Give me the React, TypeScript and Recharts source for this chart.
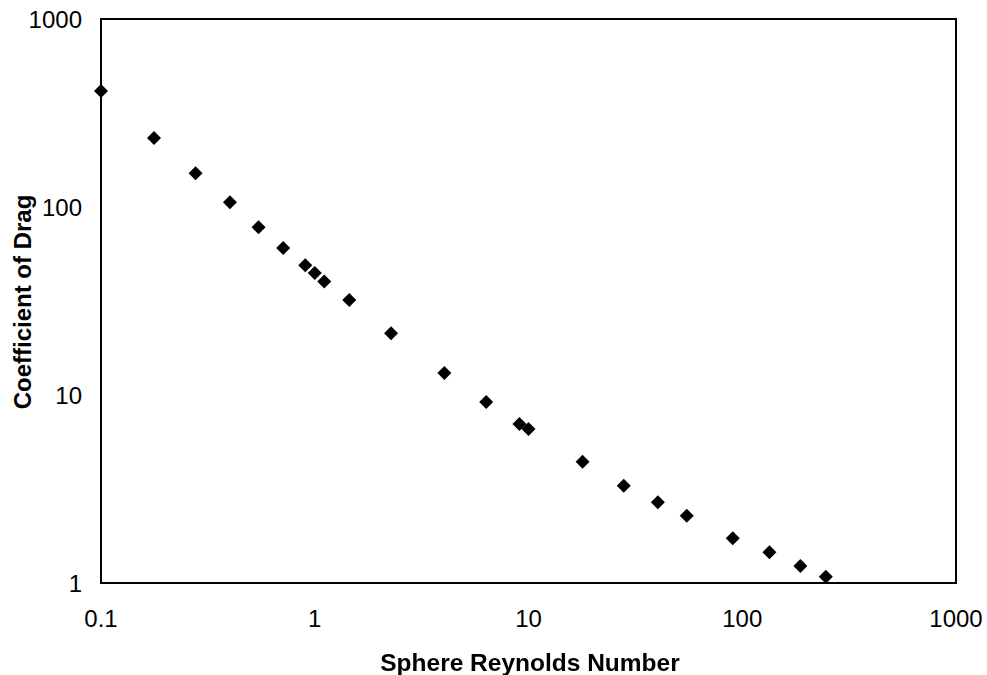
import React from 'react';
import { ScatterChart, Scatter, XAxis, YAxis, ReferenceArea } from 'recharts';

// Sphere Reynolds number vs drag coefficient
const reynolds = [0.1, 0.177, 0.277, 0.401, 0.546, 0.712, 0.903, 1.0, 1.108, 1.45, 2.275, 4.04, 6.34, 9.07, 10.0, 17.9, 27.9, 40.3, 55.0, 90.3, 134, 187, 246];
const dragCoef = [414, 233, 151, 106, 78, 60.5, 49, 44.6, 40.1, 32, 21.3, 13.1, 9.18, 7.01, 6.6, 4.42, 3.29, 2.69, 2.28, 1.73, 1.456, 1.23, 1.08];

const xTicks = [0.1, 1, 10, 100, 1000];
const yTicks = [1, 10, 100, 1000];

const points = reynolds.map((re, i) => ({ re, cd: dragCoef[i] }));

const FONT = '"Liberation Sans", Arial, sans-serif';

const Diamond = (props: any) => {
  const { cx, cy } = props;
  const r = 7;
  return <polygon points={`${cx},${cy - r} ${cx + r},${cy} ${cx},${cy + r} ${cx - r},${cy}`} fill="#000" />;
};

export default function App() {
  return (
    <div style={{ position: 'fixed', left: 0, top: 0, width: 987, height: 675, fontFamily: FONT, background: '#fff' }}>
      <ScatterChart width={987} height={675} margin={{ top: 19, right: 31, bottom: 0, left: 0 }}>
        <XAxis
          type="number"
          dataKey="re"
          scale="log"
          domain={[0.1, 1000]}
          ticks={xTicks}
          axisLine={false}
          tickLine={false}
          tickMargin={21}
          height={92}
          tick={{ fill: '#000', fontSize: 24, fontFamily: FONT }}
          tickFormatter={(v: number) => String(v)}
        />
        <YAxis
          type="number"
          dataKey="cd"
          scale="log"
          domain={[1, 1000]}
          ticks={yTicks}
          axisLine={false}
          tickLine={false}
          tickMargin={13}
          width={101}
          tick={{ fill: '#000', fontSize: 24, fontFamily: FONT }}
        />
        <ReferenceArea x1={0.1} x2={1000} y1={1} y2={1000} fill="none" stroke="#000" strokeWidth={2} fillOpacity={0} strokeOpacity={1} ifOverflow="visible" />
        <Scatter data={points} shape={<Diamond />} isAnimationActive={false} />
      </ScatterChart>
      <div style={{ position: 'absolute', left: 0, width: 1060, top: 649, textAlign: 'center', fontWeight: 'bold', fontSize: 24.5, lineHeight: '28px' }}>
        Sphere Reynolds Number
      </div>
      <div style={{ position: 'absolute', left: 23, top: 302, width: 0, height: 0 }}>
        <div style={{ position: 'absolute', transform: 'translate(-50%, -50%) rotate(-90deg)', whiteSpace: 'nowrap', fontWeight: 'bold', fontSize: 24, lineHeight: '28px' }}>
          Coefficient of Drag
        </div>
      </div>
    </div>
  );
}
